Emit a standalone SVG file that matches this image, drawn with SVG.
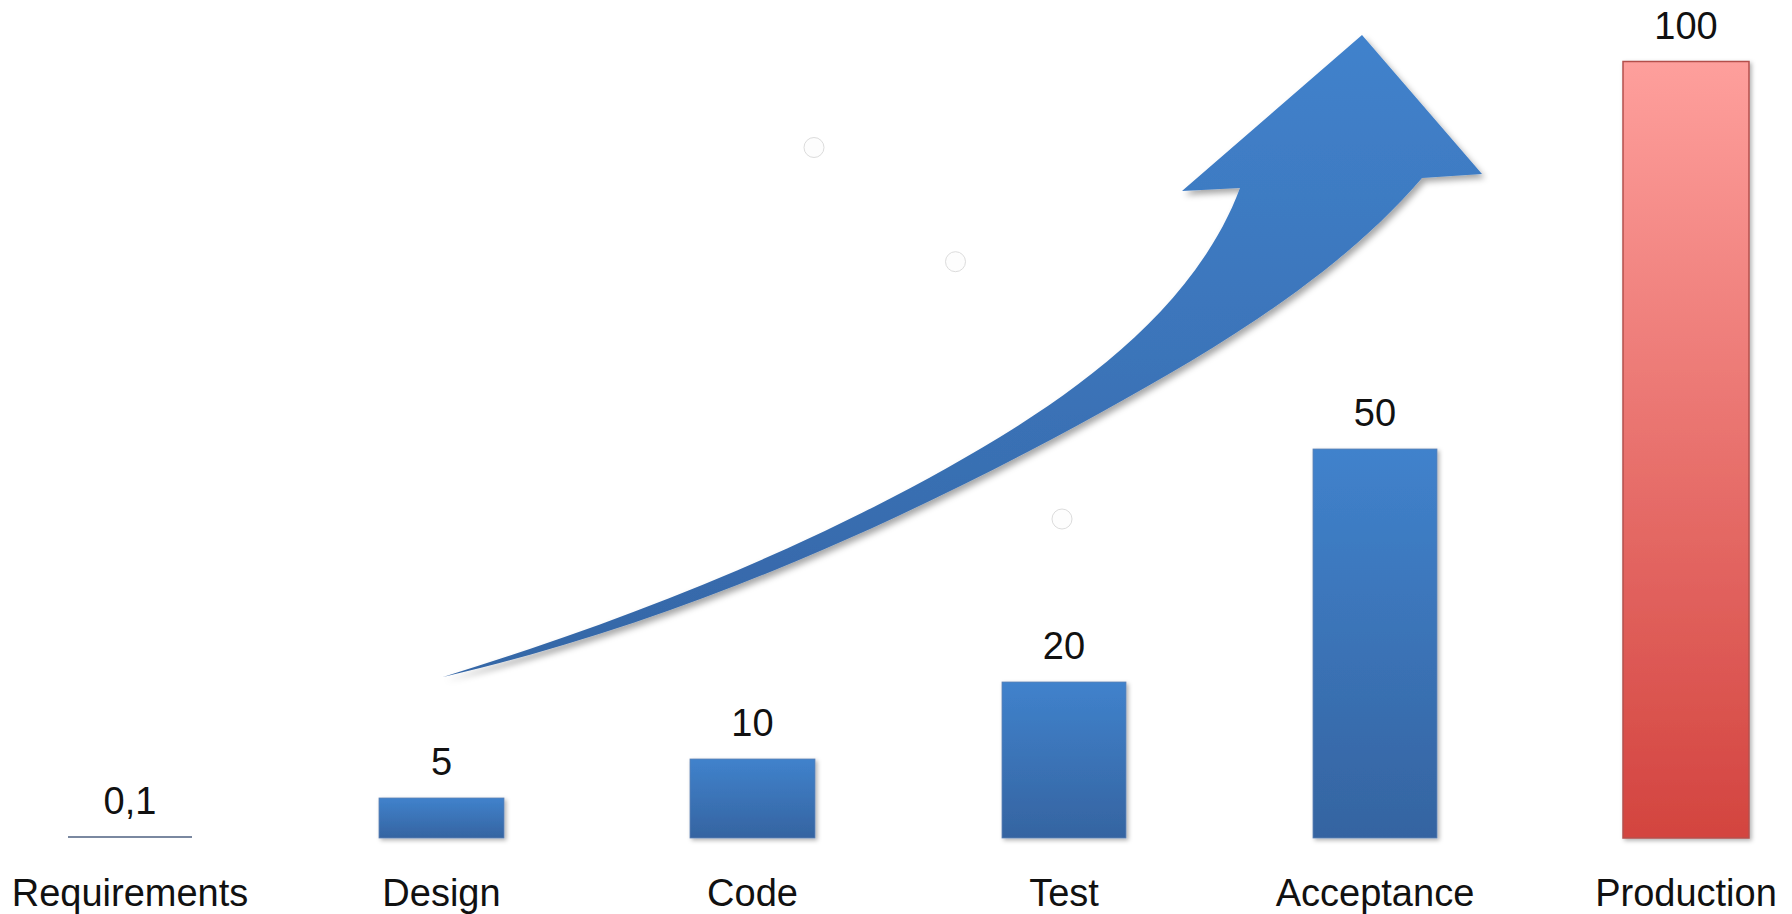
<svg xmlns="http://www.w3.org/2000/svg" width="1792" height="914" viewBox="0 0 1792 914">
  <defs>
    <linearGradient id="gBlue" x1="0" y1="0" x2="0" y2="1">
      <stop offset="0" stop-color="#4082CC"/>
      <stop offset="1" stop-color="#3564A1"/>
    </linearGradient>
    <linearGradient id="gRed" x1="0" y1="0" x2="0" y2="1">
      <stop offset="0" stop-color="#FE9F9C"/>
      <stop offset="1" stop-color="#D3443F"/>
    </linearGradient>
    <linearGradient id="gArrow" gradientUnits="userSpaceOnUse" x1="0" y1="35" x2="0" y2="680">
      <stop offset="0" stop-color="#4182CC"/>
      <stop offset="1" stop-color="#3566A6"/>
    </linearGradient>
    <filter id="shadow" x="-10%" y="-10%" width="130%" height="130%">
      <feDropShadow dx="2" dy="2" stdDeviation="2" flood-color="#000" flood-opacity="0.3"/>
    </filter>
    <filter id="ashadow" x="-10%" y="-10%" width="130%" height="130%">
      <feDropShadow dx="3" dy="4" stdDeviation="3" flood-color="#000" flood-opacity="0.35"/>
    </filter>
  </defs>
  <style>
    text { font-family: "Liberation Sans", Arial, sans-serif; font-size: 38px; fill: #111; text-anchor: middle; }
    .blue { fill: url(#gBlue); stroke: #5f82b4; stroke-width: 0.8; filter: url(#shadow); }
    .red { fill: url(#gRed); stroke: #B4504C; stroke-width: 1.5; filter: url(#shadow); }
    .dot { fill: #fdfdfd; stroke: #dcdcdc; stroke-width: 1; }
  </style>
  <rect width="1792" height="914" fill="#fff"/>

  <g id="arrow">
    <path fill="url(#gArrow)" filter="url(#ashadow)" d="M1362,35 L1482,174 L1422,178 C1337,277 1214,350 1100,413 C893,527 673,624 443,677 C634,618 829,541 1000,437 C1098,377 1200,296 1240,188 L1182,191 Z"/>
  </g>

  <g id="dots">
    <circle class="dot" cx="814" cy="147.5" r="10"/>
    <circle class="dot" cx="955.5" cy="261.7" r="10"/>
    <circle class="dot" cx="1062" cy="519" r="10"/>
  </g>

  <g id="requirements">
    <line x1="68" y1="837" x2="192" y2="837" stroke="#7a88a0" stroke-width="2"/>
    <text x="130" y="814">0,1</text>
    <text x="130" y="906">Requirements</text>
  </g>
  <g id="design">
    <rect class="blue" x="379" y="798" width="125" height="40"/>
    <text x="441.5" y="775">5</text>
    <text x="441.5" y="906">Design</text>
  </g>
  <g id="code">
    <rect class="blue" x="690" y="759" width="125" height="79"/>
    <text x="752.5" y="736">10</text>
    <text x="752.5" y="906">Code</text>
  </g>
  <g id="test">
    <rect class="blue" x="1002" y="682" width="124" height="156"/>
    <text x="1064" y="659">20</text>
    <text x="1064" y="906">Test</text>
  </g>
  <g id="acceptance">
    <rect class="blue" x="1313" y="449" width="124" height="389"/>
    <text x="1375" y="426">50</text>
    <text x="1375" y="906">Acceptance</text>
  </g>
  <g id="production">
    <rect class="red" x="1623" y="61.5" width="126" height="776.5"/>
    <text x="1686" y="39">100</text>
    <text x="1686" y="906">Production</text>
  </g>
</svg>
